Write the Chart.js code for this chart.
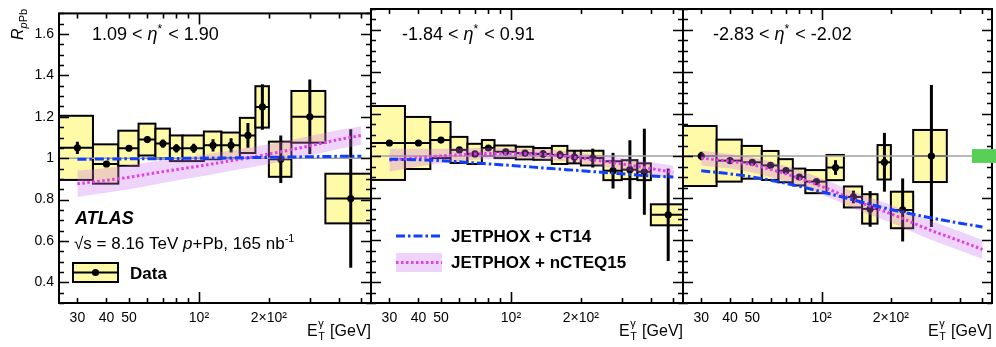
<!DOCTYPE html>
<html>
<head>
<meta charset="utf-8">
<title>Prompt photon R_pPb in p+Pb at 8.16 TeV</title>
<script src="https://cdn.jsdelivr.net/npm/chart.js@4.4.1/dist/chart.umd.min.js"></script>
<style>
  html, body { margin: 0; padding: 0; background: #ffffff; }
  #fig { position: relative; width: 996px; height: 347px; overflow: hidden; background: #fff; }
  #fig canvas { position: absolute; left: 0; top: 0; }
</style>
</head>
<body>
<div id="fig">
  <canvas id="pFwd" width="996" height="347"></canvas>
  <canvas id="pMid" width="996" height="347"></canvas>
  <canvas id="pBwd" width="996" height="347"></canvas>
</div>
<script>
// ---------- measured R_pPb: 1.09 < eta* < 1.90 ----------
const fwdEt   = [30, 40, 50, 60, 70, 80, 95, 115, 137.5, 162.5, 187.5, 225, 300, 450];
const fwdLo   = [25, 35, 45, 55, 65, 75, 85, 105, 125, 150, 175, 200, 250, 350];
const fwdHi   = [35, 45, 55, 65, 75, 85, 105, 125, 150, 175, 200, 250, 350, 550];
const fwdR    = [1.05, 0.972, 1.048, 1.09, 1.071, 1.048, 1.048, 1.062, 1.062, 1.11, 1.248, 0.995, 1.2, 0.805];
const fwdSys  = [0.155, 0.095, 0.085, 0.077, 0.072, 0.062, 0.062, 0.067, 0.062, 0.085, 0.1, 0.085, 0.125, 0.12];
const fwdStat = [0.03, 0.015, 0.015, 0.015, 0.02, 0.02, 0.022, 0.03, 0.035, 0.06, 0.11, 0.115, 0.18, 0.335];

// ---------- measured R_pPb: -1.84 < eta* < 0.91 ----------
const midEt   = [30, 40, 50, 60, 70, 80, 95, 115, 137.5, 162.5, 187.5, 225, 275, 325, 375, 475];
const midLo   = [25, 35, 45, 55, 65, 75, 85, 105, 125, 150, 175, 200, 250, 300, 350, 400];
const midHi   = [35, 45, 55, 65, 75, 85, 105, 125, 150, 175, 200, 250, 300, 350, 400, 550];
const midR    = [1.062, 1.062, 1.076, 1.029, 1.01, 1.038, 1.02, 1.014, 1.01, 1.005, 0.995, 0.99, 0.93, 0.935, 0.925, 0.72];
const midSys  = [0.176, 0.124, 0.086, 0.062, 0.048, 0.038, 0.03, 0.03, 0.028, 0.043, 0.03, 0.035, 0.045, 0.045, 0.04, 0.05];
const midStat = [0.012, 0.01, 0.01, 0.01, 0.01, 0.012, 0.012, 0.015, 0.018, 0.02, 0.03, 0.045, 0.085, 0.14, 0.205, 0.22];

// ---------- measured R_pPb: -2.83 < eta* < -2.02 ----------
const bwdEt   = [30, 40, 50, 60, 70, 80, 95, 115, 137.5, 162.5, 187.5, 225, 300];
const bwdLo   = [25, 35, 45, 55, 65, 75, 85, 105, 125, 150, 175, 200, 250];
const bwdHi   = [35, 45, 55, 65, 75, 85, 105, 125, 150, 175, 200, 250, 350];
const bwdR    = [1.0, 0.978, 0.97, 0.955, 0.93, 0.9, 0.878, 0.945, 0.805, 0.748, 0.97, 0.743, 1.0];
const bwdSys  = [0.143, 0.1, 0.078, 0.069, 0.055, 0.04, 0.055, 0.06, 0.05, 0.07, 0.082, 0.087, 0.124];
const bwdStat = [0.02, 0.012, 0.01, 0.01, 0.01, 0.012, 0.012, 0.035, 0.03, 0.085, 0.14, 0.15, 0.338];
const normUnc = 0.033;   // common normalisation uncertainty (green box)

// ---------- JETPHOX predictions ----------
const thEt     = [30, 40, 50, 70, 100, 150, 200, 300, 400, 500];
const fwdCT14  = [0.995, 0.996, 0.997, 0.998, 1.0, 1.002, 1.004, 1.007, 1.009, 1.01];
const fwdNC    = [0.876, 0.893, 0.908, 0.935, 0.962, 0.995, 1.02, 1.06, 1.09, 1.11];
const fwdNCLo  = [0.813, 0.833, 0.85, 0.88, 0.91, 0.946, 0.972, 1.013, 1.044, 1.065];
const fwdNCHi  = [0.94, 0.953, 0.966, 0.99, 1.014, 1.044, 1.068, 1.107, 1.136, 1.155];
const midCT14  = [0.985, 0.982, 0.978, 0.967, 0.955, 0.94, 0.93, 0.915, 0.905, 0.9];
const midNC    = [0.98, 0.992, 1.0, 1.01, 1.012, 1.005, 0.99, 0.962, 0.94, 0.922];
const midNCLo  = [0.925, 0.95, 0.965, 0.982, 0.987, 0.98, 0.965, 0.935, 0.91, 0.89];
const midNCHi  = [1.035, 1.034, 1.035, 1.038, 1.037, 1.03, 1.015, 0.99, 0.97, 0.954];
const bwdCT14  = [0.93, 0.915, 0.9, 0.87, 0.83, 0.78, 0.745, 0.705, 0.68, 0.662];
const bwdNC    = [0.99, 0.975, 0.958, 0.915, 0.855, 0.775, 0.725, 0.645, 0.595, 0.555];
const bwdNCLo  = [0.955, 0.94, 0.922, 0.878, 0.817, 0.735, 0.683, 0.6, 0.55, 0.51];
const bwdNCHi  = [1.025, 1.01, 0.994, 0.952, 0.893, 0.815, 0.767, 0.69, 0.64, 0.6];

// ---------- axes ----------
const xTicks      = [30, 40, 50, 60, 70, 80, 90, 100, 200, 300, 400, 500];
const xMajorTicks = [100];
const xTickLabels = { 30: '30', 40: '40', 50: '50', 100: '10\u00B2', 200: '2\u00D710\u00B2' };
const yTicks      = [0.4, 0.6, 0.8, 1.0, 1.2, 1.4, 1.6];
const yTickLabels = { 0.4: '0.4', 0.6: '0.6', 0.8: '0.8', 1: '1', 1.2: '1.2', 1.4: '1.4', 1.6: '1.6' };

const FONT    = '"Liberation Sans", Arial, Helvetica, sans-serif';
const YELLOW  = '#fffaa8';
const BLUE    = '#1040ff';
const MAGENTA = '#e040e8';
const BAND    = 'rgba(200, 110, 240, 0.30)';
const GREEN   = '#58d058';

const xy = (xs, ys) => xs.map((x, i) => ({ x: x, y: ys[i] }));

// draws a run of text pieces with individual fonts / vertical shifts
function richText(ctx, x, y, parts, align) {
  let w = 0;
  parts.forEach(p => { ctx.font = p.f; w += ctx.measureText(p.t).width + (p.gap || 0); });
  let cx = align === 'right' ? x - w : x;
  ctx.textBaseline = 'alphabetic';
  ctx.textAlign = 'left';
  parts.forEach(p => {
    ctx.font = p.f;
    ctx.fillText(p.t, cx, y + (p.dy || 0));
    cx += ctx.measureText(p.t).width + (p.gap || 0);
  });
}

function etaLabel(ctx, x, y, lo, hi) {
  const n = '18px ' + FONT, it = 'italic 18px ' + FONT, sup = '12px ' + FONT;
  richText(ctx, x, y, [
    { t: lo + ' < ', f: n }, { t: '\u03B7', f: it }, { t: '*', f: sup, dy: -7, gap: 1 },
    { t: ' < ' + hi, f: n }
  ]);
}

function xTitle(ctx, right, y) {
  const big = '16px ' + FONT, small = '11px ' + FONT;
  ctx.fillStyle = '#000';
  ctx.font = big;
  const tail = ' [GeV]';
  const wTail = ctx.measureText(tail).width;
  ctx.textAlign = 'left'; ctx.textBaseline = 'alphabetic';
  const xe = right - wTail - 8 - ctx.measureText('E').width;
  ctx.fillText('E', xe, y);
  const xs = xe + ctx.measureText('E').width + 0.5;
  ctx.font = small;
  ctx.fillText('\u03B3', xs, y - 9);
  ctx.fillText('T', xs, y + 4);
  ctx.font = big;
  ctx.fillText(tail, right - wTail, y);
}

function buildPanel(canvasId, p) {
  const deco = {
    id: 'rpaDeco',
    beforeDatasetsDraw(chart) {
      const { ctx, chartArea: a, scales: { x, y } } = chart;
      ctx.save();
      ctx.beginPath(); ctx.rect(a.left, a.top, a.right - a.left, a.bottom - a.top); ctx.clip();
      // systematic boxes
      p.et.forEach((e, i) => {
        const xl = x.getPixelForValue(p.lo[i]), xr = x.getPixelForValue(p.hi[i]);
        const yt = y.getPixelForValue(p.r[i] + p.sys[i]), yb = y.getPixelForValue(p.r[i] - p.sys[i]);
        ctx.fillStyle = YELLOW;
        ctx.fillRect(xl, yt, xr - xl, yb - yt);
        ctx.strokeStyle = '#000'; ctx.lineWidth = 2;
        ctx.strokeRect(xl, yt, xr - xl, yb - yt);
        const yc = y.getPixelForValue(p.r[i]);
        ctx.beginPath(); ctx.moveTo(xl, yc); ctx.lineTo(xr, yc); ctx.stroke();
      });
      // statistical error bars
      ctx.lineWidth = 3;
      p.et.forEach((e, i) => {
        const xc = x.getPixelForValue(e);
        ctx.beginPath();
        ctx.moveTo(xc, y.getPixelForValue(p.r[i] - p.stat[i]));
        ctx.lineTo(xc, y.getPixelForValue(p.r[i] + p.stat[i]));
        ctx.stroke();
      });
      // unity reference
      const y1 = y.getPixelForValue(1);
      ctx.strokeStyle = '#a0a0a0'; ctx.lineWidth = 1.6;
      ctx.beginPath(); ctx.moveTo(a.left, y1); ctx.lineTo(a.right, y1); ctx.stroke();
      ctx.restore();
    },
    afterDatasetsDraw(chart) {
      const { ctx, chartArea: a, scales: { x, y } } = chart;
      ctx.save();
      ctx.strokeStyle = '#000';
      // inward tick marks on all four sides
      ctx.lineWidth = 1.6;
      ctx.beginPath();
      for (let k = 0; k <= 28; k++) {
        const v = 0.3 + k * 0.05;
        const major = Math.abs((v * 10) % 2) < 0.01 || Math.abs((v * 10) % 2 - 2) < 0.01;
        const len = major ? 10 : 5;
        const py = Math.round(y.getPixelForValue(v)) + 0.5;
        ctx.moveTo(a.left, py); ctx.lineTo(a.left + len, py);
        ctx.moveTo(a.right, py); ctx.lineTo(a.right - len, py);
      }
      xTicks.forEach(v => {
        const len = xMajorTicks.includes(v) ? 11 : 5;
        const px = Math.round(x.getPixelForValue(v)) + 0.5;
        ctx.moveTo(px, a.bottom); ctx.lineTo(px, a.bottom - len);
        ctx.moveTo(px, a.top); ctx.lineTo(px, a.top + len);
      });
      ctx.stroke();
      // frame
      ctx.lineWidth = 2;
      ctx.strokeRect(a.left, a.top, a.right - a.left, a.bottom - a.top);
      // normalisation box
      if (p.norm) {
        ctx.fillStyle = GREEN;
        const xl = x.getPixelForValue(450), xr = x.getPixelForValue(620);
        const yt = y.getPixelForValue(1 + p.norm), yb = y.getPixelForValue(1 - p.norm);
        ctx.fillRect(xl, yt, xr - xl, yb - yt);
      }
      ctx.fillStyle = '#000';
      etaLabel(ctx, a.left + p.labelDx, 40, p.etaLo, p.etaHi);
      xTitle(ctx, a.right, 336);
      if (p.extra) p.extra(ctx, chart);
      ctx.restore();
    }
  };

  return new Chart(document.getElementById(canvasId), {
    type: 'scatter',
    data: {
      datasets: [
        { data: xy(thEt, p.ct14), showLine: true, borderColor: BLUE, borderWidth: 3,
          borderDash: [9, 3, 2.5, 3], pointRadius: 0, cubicInterpolationMode: 'monotone', order: 1 },
        { data: xy(thEt, p.nc), showLine: true, borderColor: MAGENTA, borderWidth: 3,
          borderDash: [2.5, 2.5], pointRadius: 0, cubicInterpolationMode: 'monotone', order: 2 },
        { data: xy(thEt, p.ncHi), showLine: true, borderColor: 'rgba(0,0,0,0)', borderWidth: 0,
          pointRadius: 0, fill: '+1', backgroundColor: BAND, cubicInterpolationMode: 'monotone', order: 3 },
        { data: xy(thEt, p.ncLo), showLine: true, borderColor: 'rgba(0,0,0,0)', borderWidth: 0,
          pointRadius: 0, cubicInterpolationMode: 'monotone', order: 4 },
        { data: xy(p.et, p.r), pointRadius: 3.6, pointBackgroundColor: '#000',
          pointBorderWidth: 0, order: 10 }
      ]
    },
    options: {
      responsive: false,
      animation: false,
      devicePixelRatio: 1,
      events: [],
      layout: { padding: { left: p.padL, right: p.padR, top: 9, bottom: 0 } },
      plugins: { legend: { display: false }, tooltip: { enabled: false } },
      scales: {
        x: {
          type: 'logarithmic', min: 25, max: 550, position: 'bottom',
          afterBuildTicks: s => { s.ticks = xTicks.map(v => ({ value: v })); },
          afterFit: s => { s.height = 44; },
          grid: { display: false, drawTicks: false }, border: { display: false },
          ticks: { autoSkip: false, maxRotation: 0, minRotation: 0, padding: 7, color: '#000',
                   font: { family: FONT, size: 14 }, callback: v => xTickLabels[v] || '' }
        },
        y: {
          type: 'linear', min: 0.3, max: 1.7, display: p.showY, position: 'left',
          afterBuildTicks: s => { s.ticks = yTicks.map(v => ({ value: v })); },
          afterFit: s => { s.width = p.showY ? 59 : 0; },
          grid: { display: false, drawTicks: false }, border: { display: false },
          ticks: { padding: 5, color: '#000', font: { family: FONT, size: 14 },
                   callback: v => yTickLabels[Math.round(v * 10) / 10] || '' }
        }
      }
    },
    plugins: [deco]
  });
}

// ---- left panel: forward rapidity, with ATLAS label and data legend ----
buildPanel('pFwd', {
  padL: 0, padR: 996 - 371, showY: true, labelDx: 33, etaLo: '1.09', etaHi: '1.90',
  et: fwdEt, lo: fwdLo, hi: fwdHi, r: fwdR, sys: fwdSys, stat: fwdStat,
  ct14: fwdCT14, nc: fwdNC, ncLo: fwdNCLo, ncHi: fwdNCHi,
  extra(ctx, chart) {
    // y-axis title
    ctx.save();
    ctx.translate(23, 40);
    ctx.rotate(-Math.PI / 2);
    ctx.fillStyle = '#000';
    richText(ctx, 0, 0, [
      { t: 'R', f: 'italic 16px ' + FONT },
      { t: 'p', f: 'italic 11px ' + FONT, dy: 4 },
      { t: 'Pb', f: '11px ' + FONT, dy: 4 }
    ]);
    ctx.restore();
    ctx.fillStyle = '#000';
    ctx.font = 'italic bold 18px ' + FONT;
    ctx.fillText('ATLAS', 75, 224);
    const n = '17px ' + FONT;
    richText(ctx, 74, 249, [
      { t: '\u221As', f: n }, { t: ' = 8.16 TeV ', f: n }, { t: 'p', f: 'italic 17px ' + FONT },
      { t: '+Pb, 165 nb', f: n }, { t: '-1', f: '11px ' + FONT, dy: -7 }
    ]);
    // data legend symbol
    ctx.fillStyle = YELLOW;
    ctx.fillRect(73, 263, 45, 19);
    ctx.strokeStyle = '#000'; ctx.lineWidth = 2;
    ctx.strokeRect(73, 263, 45, 19);
    ctx.beginPath(); ctx.moveTo(73, 272.5); ctx.lineTo(118, 272.5); ctx.stroke();
    ctx.fillStyle = '#000';
    ctx.beginPath(); ctx.arc(95.5, 272.5, 3.6, 0, Math.PI * 2); ctx.fill();
    ctx.font = 'bold 17px ' + FONT;
    ctx.fillText('Data', 130, 279);
  }
});

// ---- middle panel: central rapidity, with theory legend ----
buildPanel('pMid', {
  padL: 371, padR: 996 - 683, showY: false, labelDx: 31, etaLo: '-1.84', etaHi: '0.91',
  et: midEt, lo: midLo, hi: midHi, r: midR, sys: midSys, stat: midStat,
  ct14: midCT14, nc: midNC, ncLo: midNCLo, ncHi: midNCHi,
  extra(ctx) {
    ctx.strokeStyle = BLUE; ctx.lineWidth = 3; ctx.setLineDash([9, 3, 2.5, 3]);
    ctx.beginPath(); ctx.moveTo(396, 236); ctx.lineTo(442, 236); ctx.stroke();
    ctx.fillStyle = BAND;
    ctx.fillRect(396, 253, 46, 19);
    ctx.strokeStyle = MAGENTA; ctx.setLineDash([2.5, 2.5]);
    ctx.beginPath(); ctx.moveTo(396, 262.5); ctx.lineTo(442, 262.5); ctx.stroke();
    ctx.setLineDash([]);
    ctx.fillStyle = '#000';
    ctx.font = 'bold 17px ' + FONT;
    ctx.fillText('JETPHOX + CT14', 451, 242);
    ctx.fillText('JETPHOX + nCTEQ15', 451, 268);
  }
});

// ---- right panel: backward rapidity ----
buildPanel('pBwd', {
  padL: 683, padR: 4, showY: false, labelDx: 30, etaLo: '-2.83', etaHi: '-2.02',
  et: bwdEt, lo: bwdLo, hi: bwdHi, r: bwdR, sys: bwdSys, stat: bwdStat,
  ct14: bwdCT14, nc: bwdNC, ncLo: bwdNCLo, ncHi: bwdNCHi, norm: normUnc
});
</script>
</body>
</html>
